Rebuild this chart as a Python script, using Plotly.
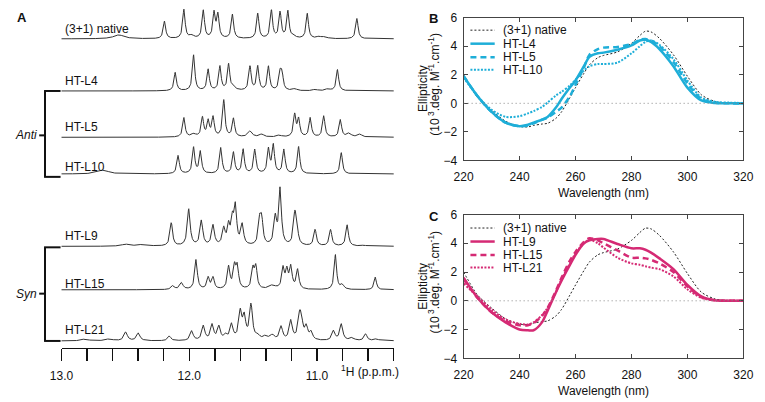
import numpy as np
import plotly.graph_objects as go

W, H = 765, 402
FONT = "Arial, 'Liberation Sans', sans-serif"

# ---------------- Panel A : 1H NMR imino spectra (peak lists) ----------------
ppm_label_ticks = [13.0, 12.0, 11.0]
ppm_label_text = ["13.0", "12.0", "11.0"]

nmr_names = ["(3+1) native", "HT-L4", "HT-L5", "HT-L10", "HT-L9", "HT-L15", "HT-L21"]

native_ppm = [12.551, 12.194, 12.042, 11.981, 11.890, 11.806, 11.776, 11.662, 11.464, 11.357,
              11.289, 11.228, 11.183, 11.076, 10.985, 10.939, 10.688]
native_int = [4, 18, 30, 3, 29, 26, 24, 25, 26, 29, 27, 28, 2, 26, 2, 2, 21]
native_hw = [0.05, 0.011, 0.011, 0.02, 0.011, 0.011, 0.011, 0.011, 0.011, 0.011,
             0.011, 0.011, 0.02, 0.011, 0.02, 0.02, 0.011]

l4_ppm = [12.110, 11.966, 11.852, 11.760, 11.692, 11.654, 11.525, 11.464, 11.380, 11.289,
          11.274, 11.175, 11.015, 10.916, 10.840]
l4_int = [19, 37, 22, 25, 27, 3, 25, 25, 25, 17, 16, 2, 1.5, 2, 22]
l4_hw = [0.011, 0.011, 0.011, 0.011, 0.011, 0.02, 0.011, 0.011, 0.011, 0.011,
         0.011, 0.02, 0.02, 0.02, 0.011]

l5_ppm = [12.042, 11.966, 11.897, 11.852, 11.814, 11.730, 11.654, 11.525, 11.433, 11.297,
          11.175, 11.144, 11.053, 10.947, 10.817, 10.749, 10.665]
l5_int = [20, 3, 20, 16, 20, 38, 19, 6, 3, 2, 23, 18, 20, 22, 18, 4, 3]
l5_hw = [0.011, 0.02, 0.011, 0.011, 0.011, 0.011, 0.011, 0.02, 0.02, 0.02,
         0.011, 0.011, 0.011, 0.011, 0.011, 0.02, 0.02]

l10_ppm = [12.673, 12.087, 11.966, 11.913, 11.753, 11.654, 11.578, 11.487, 11.380, 11.342,
           11.259, 11.144, 10.810]
l10_int = [4, 19, 27, 23, 27, 22, 25, 25, 25, 29, 25, 28, 22]
l10_hw = [0.05, 0.011, 0.011, 0.011, 0.011, 0.011, 0.011, 0.011, 0.011, 0.011,
          0.011, 0.011, 0.011]

l9_ppm = [12.498, 12.361, 12.141, 12.004, 11.905, 11.814, 11.730, 11.692, 11.662, 11.639,
          11.586, 11.449, 11.433, 11.327, 11.289, 11.175, 11.160, 11.015, 10.894, 10.764, 10.635]
l9_int = [2, 2, 24, 38, 26, 21, 17, 19, 24, 38, 21, 24, 24, 28, 58, 28, 20, 17, 17, 22, 1]
l9_hw = [0.04, 0.04, 0.012, 0.013, 0.013, 0.013, 0.013, 0.012, 0.012, 0.012,
         0.013, 0.012, 0.012, 0.013, 0.012, 0.012, 0.012, 0.012, 0.012, 0.012, 0.02]

l15_ppm = [12.129, 12.061, 11.947, 11.852, 11.814, 11.692, 11.646, 11.624, 11.502, 11.479,
           11.350, 11.266, 11.236, 11.205, 11.152, 10.856, 10.802, 10.544]
l15_int = [4, 7, 31, 12, 12, 23, 22, 22, 20, 22, 4, 21, 18, 22, 20, 36, 5, 13]
l15_hw = [0.015, 0.015, 0.012, 0.012, 0.012, 0.012, 0.012, 0.012, 0.012, 0.012,
          0.03, 0.012, 0.012, 0.012, 0.012, 0.011, 0.015, 0.011]

l21_ppm = [12.817, 12.627, 12.498, 12.399, 12.156, 11.981, 11.890, 11.821, 11.768, 11.715,
           11.669, 11.601, 11.570, 11.517, 11.464, 11.403, 11.350, 11.281, 11.205, 11.137,
           11.122, 11.084, 11.046, 10.871, 10.810, 10.726, 10.620, 10.536]
l21_int = [2, 2, 9, 8, 5, 10, 15, 16, 14, 5, 16, 28, 22, 36, 4, 4, 5, 14, 20, 22,
           16, 13, 8, 10, 17, 3, 7, 2]
l21_hw = [0.03, 0.03, 0.016, 0.016, 0.014, 0.014, 0.014, 0.014, 0.014, 0.014,
          0.014, 0.014, 0.014, 0.014, 0.02, 0.02, 0.02, 0.014, 0.014, 0.014,
          0.014, 0.014, 0.014, 0.014, 0.014, 0.02, 0.014, 0.02]

nmr_peaks = [
    (native_ppm, native_int, native_hw),
    (l4_ppm, l4_int, l4_hw),
    (l5_ppm, l5_int, l5_hw),
    (l10_ppm, l10_int, l10_hw),
    (l9_ppm, l9_int, l9_hw),
    (l15_ppm, l15_int, l15_hw),
    (l21_ppm, l21_int, l21_hw),
]
# vertical stacking offset of each spectrum (layout)
nmr_offsets = [320, 266, 218, 180, 105, 60, 7]
nmr_label_y = [23, 77, 124, 166, 237, 287, 335]  # pixel rows of labels

# ---------------- Panels B, C : CD spectra ----------------
wavelength = [220, 225, 230, 235, 240, 243, 245, 248, 250, 253, 255, 258, 260, 263, 265,
              268, 270, 275, 280, 283, 285, 287, 290, 295, 300, 305, 310, 315, 320]
cd_native = [2.0, 0.4, -0.5, -1.25, -1.62, -1.65, -1.55, -1.45, -1.4, -1.05, -0.6, 0.4, 1.1, 2.1, 2.7,
             3.2, 3.35, 3.6, 4.2, 4.75, 5.05, 5.0, 4.55, 3.4, 1.9, 0.6, 0.12, 0.02, 0.0]
cd_l4 = [1.9, 0.5, -0.6, -1.35, -1.6, -1.5, -1.35, -1.15, -0.95, -0.3, 0.3, 1.1, 1.6, 2.6, 3.25,
         3.5, 3.55, 3.75, 4.05, 4.4, 4.45, 4.3, 3.8, 2.6, 1.1, 0.2, 0.02, 0.0, -0.02]
cd_l5 = [1.9, 0.5, -0.6, -1.35, -1.6, -1.55, -1.4, -1.15, -1.0, -0.6, -0.3, 0.5, 1.3, 2.5, 3.4,
         3.8, 3.9, 3.95, 4.15, 4.45, 4.5, 4.4, 4.0, 2.9, 1.4, 0.3, 0.04, 0.0, -0.02]
cd_l10 = [1.8, 0.5, -0.45, -0.95, -0.9, -0.7, -0.55, -0.25, 0.05, 0.55, 0.8, 1.25, 1.65, 2.3, 2.6,
          2.75, 2.75, 2.85, 3.5, 4.0, 4.3, 4.4, 4.1, 3.1, 1.6, 0.4, 0.1, 0.05, 0.02]
cd_l9 = [1.6, 0.2, -0.8, -1.5, -2.0, -2.05, -2.05, -1.5, -0.7, 0.6, 1.4, 2.5, 3.2, 4.0, 4.2,
         4.3, 4.3, 3.95, 3.65, 3.65, 3.55, 3.35, 2.95, 2.2, 1.1, 0.3, 0.03, 0.0, 0.0]
cd_l15 = [1.5, 0.2, -0.8, -1.4, -1.7, -1.7, -1.55, -1.05, -0.5, 0.7, 1.6, 2.8, 3.4, 4.1, 4.35,
          4.2, 4.0, 3.5, 3.0, 3.0, 2.95, 2.85, 2.6, 2.0, 1.0, 0.25, 0.03, 0.0, 0.0]
cd_l21 = [1.2, 0.3, -0.6, -1.3, -1.6, -1.65, -1.5, -1.0, -0.5, 0.6, 1.5, 2.6, 3.3, 4.0, 4.25,
          4.0, 3.7, 3.0, 2.6, 2.5, 2.4, 2.3, 2.2, 1.7, 0.8, 0.2, 0.03, 0.0, 0.0]

names_B = ["(3+1) native", "HT-L4", "HT-L5", "HT-L10"]
names_C = ["(3+1) native", "HT-L9", "HT-L15", "HT-L21"]
series_B = [cd_native, cd_l4, cd_l5, cd_l10]
series_C = [cd_native, cd_l9, cd_l15, cd_l21]

CYAN = "#1eaed8"
MAGENTA = "#d52a74"
BLACK = "#222222"
styles = [  # (width, dash) for native, solid, dashed, dotted
    (1.0, "2px,2px"),
    (2.5, "solid"),
    (2.5, "6px,4px"),
    (2.0, "2px,1.5px"),
]


def px(x):
    return x / W


def py(y):
    return 1 - y / H


fig = go.Figure()

# Panel A traces
grid = np.arange(10.38, 13.02, 0.002)
for name, (pp, ii, ww), off in zip(nmr_names, nmr_peaks, nmr_offsets):
    p = np.array(pp)[:, None]
    h = np.array(ii, dtype=float)[:, None]
    w = np.array(ww)[:, None]
    spec = off + (h / (1 + ((grid[None, :] - p) / w) ** 2)).sum(axis=0)
    fig.add_trace(go.Scatter(x=grid, y=spec, mode="lines", name=name,
                             line=dict(color="#333333", width=1),
                             xaxis="x", yaxis="y", showlegend=False))

# Panels B, C traces
for panel, names, series, col in (("2", names_B, series_B, CYAN), ("3", names_C, series_C, MAGENTA)):
    for i, (nm, vals) in enumerate(zip(names, series)):
        wdt, dash = styles[i]
        color = BLACK if i == 0 else col
        fig.add_trace(go.Scatter(x=wavelength, y=vals, mode="lines", name=nm,
                                 line=dict(color=color, width=wdt, dash=dash, shape="spline", smoothing=0.8),
                                 xaxis="x" + panel, yaxis="y" + panel, showlegend=False))

shapes = []
annotations = []


def ann(text, x, y, size=12, xanchor="left", yanchor="middle", angle=0, color="#111"):
    annotations.append(dict(text=text, x=px(x), y=py(y), xref="paper", yref="paper",
                            xanchor=xanchor, yanchor=yanchor, showarrow=False, textangle=angle,
                            font=dict(family=FONT, size=size, color=color)))


def seg(x0, y0, x1, y1, color="#111", width=2, dash="solid"):
    shapes.append(dict(type="line", xref="paper", yref="paper", x0=px(x0), y0=py(y0),
                       x1=px(x1), y1=py(y1), line=dict(color=color, width=width, dash=dash)))


# Panel A labels
for name, ly in zip(nmr_names, nmr_label_y):
    ann(name, 52, ly)
ann("<b>A</b>", 3, 11, size=13)
ann("<sup>1</sup>H (p.p.m.)", 337, 377)

# brackets
for top, bot, mid, label in ((87, 176, 133, "<i>Anti</i>"), (249, 346, 297, "<i>Syn</i>")):
    seg(34, top, 34, bot)
    seg(33, top, 50, top)
    seg(33, bot, 50, bot)
    seg(28, mid, 34, mid)
    ann(label, 28, mid, xanchor="right")

# Panels B and C decorations
for panel, top, letter, names, col in (("2", 0, "B", names_B, CYAN), ("3", 205, "C", names_C, MAGENTA)):
    shapes.append(dict(type="line", xref="x" + panel, yref="y" + panel, x0=220, x1=320, y0=0, y1=0,
                       line=dict(color="#888888", width=1, dash="1px,3px")))
    ann("<b>%s</b>" % letter, 427, top + 12, size=13)
    ann("Ellipticity", 423, top + 84, angle=-90, xanchor="center")
    ann("(10<sup> 3</sup>.deg. M<sup>-1</sup>.cm<sup>-1</sup>)", 435, top + 80, angle=-90, xanchor="center")
    ann("Wavelength (nm)", 609, top + 193, xanchor="center")
    rows = [top + 24, top + 38, top + 52, top + 65]
    for i, (nm, ry) in enumerate(zip(names, rows)):
        wdt, dash = styles[i]
        color = BLACK if i == 0 else col
        seg(472, ry, 497, ry, color=color, width=wdt, dash=dash)
        ann(nm, 503, ry)

axis_common = dict(showline=True, linecolor="#444444", linewidth=1, mirror="ticks", ticks="inside",
                   ticklen=4, tickcolor="#444444", showgrid=False, zeroline=False,
                   tickfont=dict(family=FONT, size=12, color="#111"))

fig.update_layout(
    width=W, height=H, autosize=False,
    margin=dict(l=0, r=0, t=0, b=0),
    paper_bgcolor="white", plot_bgcolor="white",
    font=dict(family=FONT, size=12, color="#111"),
    showlegend=False,
    xaxis=dict(domain=[px(51), px(393)], range=[13.0, 10.4],
               tickmode="array", tickvals=ppm_label_ticks, ticktext=ppm_label_text,
               showline=True, linecolor="#111", linewidth=1.5, ticks="outside", ticklen=12,
               tickcolor="#111", tickwidth=1.5, showgrid=False, zeroline=False,
               ticklabelstandoff=4,
               minor=dict(tick0=13.0, dtick=0.2, ticks="outside", ticklen=12, tickwidth=1.5,
                          tickcolor="#111", showgrid=False),
               tickfont=dict(family=FONT, size=12, color="#111"), anchor="y"),
    yaxis=dict(domain=[py(353), 1], range=[0, 353], visible=False, anchor="x"),
    xaxis2=dict(domain=[px(465), px(753)], range=[220, 320], dtick=20, anchor="y2",
                ticklabelstandoff=5, **axis_common),
    yaxis2=dict(domain=[py(159), py(11)], range=[-4, 6], dtick=2, anchor="x2",
                ticklabelstandoff=3, **axis_common),
    xaxis3=dict(domain=[px(465), px(753)], range=[220, 320], dtick=20, anchor="y3",
                ticklabelstandoff=5, **axis_common),
    yaxis3=dict(domain=[py(364), py(215)], range=[-4, 6], dtick=2, anchor="x3",
                ticklabelstandoff=3, **axis_common),
    shapes=shapes,
    annotations=annotations,
)

fig.write_html("out.html", config={"displayModeBar": False, "staticPlot": True},
               post_script="document.body.style.margin='0';document.body.style.overflow='hidden';")
